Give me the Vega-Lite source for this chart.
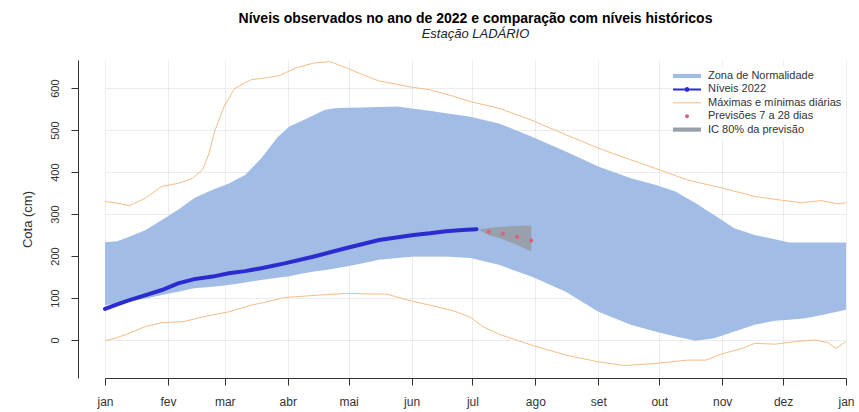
{
  "$schema": "https://vega.github.io/schema/vega-lite/v6.json",
  "width": 741,
  "height": 318,
  "autosize": {"type": "none"},
  "padding": {"left": 105, "top": 60, "right": 13, "bottom": 34},
  "background": "white",
  "title": {
    "text": "Níveis observados no ano de 2022 e comparação com níveis históricos",
    "subtitle": "Estação LADÁRIO",
    "anchor": "middle",
    "frame": "group",
    "fontSize": 14,
    "fontWeight": "bold",
    "color": "#000000",
    "subtitleFontSize": 13,
    "subtitleFontStyle": "italic",
    "subtitleColor": "#222222",
    "subtitlePadding": 2,
    "offset": 19
  },
  "config": {
    "font": "Liberation Sans",
    "view": {"stroke": null},
    "axis": {
      "grid": true,
      "gridColor": "#cfcfcf",
      "gridOpacity": 0.4,
      "domainColor": "#333333",
      "tickColor": "#333333",
      "tickSize": 7,
      "labelFontSize": 12,
      "labelColor": "#333333",
      "labelFlush": false,
      "labelOverlap": false,
      "zindex": 1
    }
  },
  "datasets": {
    "faixa": [
      {"dia": 0, "lo": 83, "hi": 233}, {"dia": 6, "lo": 87, "hi": 235}, {"dia": 12, "lo": 91, "hi": 246},
      {"dia": 20, "lo": 99, "hi": 262}, {"dia": 28, "lo": 107, "hi": 286}, {"dia": 36, "lo": 115, "hi": 310},
      {"dia": 44, "lo": 123, "hi": 338}, {"dia": 53, "lo": 127, "hi": 358}, {"dia": 61, "lo": 131, "hi": 373},
      {"dia": 69, "lo": 137, "hi": 393}, {"dia": 77, "lo": 143, "hi": 433}, {"dia": 85, "lo": 148, "hi": 483},
      {"dia": 91, "lo": 152, "hi": 509}, {"dia": 96, "lo": 157, "hi": 520}, {"dia": 103, "lo": 163, "hi": 536},
      {"dia": 108, "lo": 166, "hi": 548}, {"dia": 113, "lo": 170, "hi": 552}, {"dia": 119, "lo": 175, "hi": 553},
      {"dia": 127, "lo": 183, "hi": 554}, {"dia": 135, "lo": 191, "hi": 555}, {"dia": 144, "lo": 195, "hi": 556},
      {"dia": 152, "lo": 199, "hi": 551}, {"dia": 160, "lo": 199, "hi": 546}, {"dia": 168, "lo": 199, "hi": 540},
      {"dia": 180, "lo": 195, "hi": 532}, {"dia": 194, "lo": 179, "hi": 516}, {"dia": 210, "lo": 151, "hi": 485},
      {"dia": 227, "lo": 115, "hi": 449}, {"dia": 243, "lo": 67, "hi": 413}, {"dia": 259, "lo": 36, "hi": 385},
      {"dia": 271, "lo": 20, "hi": 370}, {"dia": 281, "lo": 8, "hi": 354}, {"dia": 291, "lo": -2, "hi": 326},
      {"dia": 300, "lo": 4, "hi": 298}, {"dia": 310, "lo": 20, "hi": 266}, {"dia": 320, "lo": 36, "hi": 250},
      {"dia": 330, "lo": 46, "hi": 240}, {"dia": 337, "lo": 48, "hi": 232}, {"dia": 345, "lo": 52, "hi": 232},
      {"dia": 355, "lo": 61, "hi": 232}, {"dia": 365, "lo": 72, "hi": 232}
    ],
    "extremos": [
      {"dia": 0, "v": 330, "s": "max"}, {"dia": 6, "v": 326, "s": "max"}, {"dia": 12, "v": 320, "s": "max"},
      {"dia": 20, "v": 338, "s": "max"}, {"dia": 28, "v": 366, "s": "max"}, {"dia": 36, "v": 373, "s": "max"},
      {"dia": 43, "v": 385, "s": "max"}, {"dia": 48, "v": 405, "s": "max"}, {"dia": 51, "v": 441, "s": "max"},
      {"dia": 54, "v": 497, "s": "max"}, {"dia": 59, "v": 560, "s": "max"}, {"dia": 64, "v": 600, "s": "max"},
      {"dia": 72, "v": 620, "s": "max"}, {"dia": 80, "v": 625, "s": "max"}, {"dia": 86, "v": 630, "s": "max"},
      {"dia": 94, "v": 648, "s": "max"}, {"dia": 103, "v": 660, "s": "max"}, {"dia": 111, "v": 663, "s": "max"},
      {"dia": 119, "v": 648, "s": "max"}, {"dia": 127, "v": 632, "s": "max"}, {"dia": 135, "v": 617, "s": "max"},
      {"dia": 149, "v": 604, "s": "max"}, {"dia": 160, "v": 596, "s": "max"}, {"dia": 172, "v": 580, "s": "max"},
      {"dia": 180, "v": 568, "s": "max"}, {"dia": 194, "v": 552, "s": "max"}, {"dia": 210, "v": 524, "s": "max"},
      {"dia": 227, "v": 489, "s": "max"}, {"dia": 243, "v": 457, "s": "max"}, {"dia": 259, "v": 429, "s": "max"},
      {"dia": 271, "v": 409, "s": "max"}, {"dia": 287, "v": 381, "s": "max"}, {"dia": 304, "v": 362, "s": "max"},
      {"dia": 320, "v": 342, "s": "max"}, {"dia": 330, "v": 335, "s": "max"}, {"dia": 343, "v": 327, "s": "max"},
      {"dia": 353, "v": 332, "s": "max"}, {"dia": 361, "v": 324, "s": "max"}, {"dia": 365, "v": 327, "s": "max"},
      {"dia": 0, "v": -2, "s": "min"}, {"dia": 5, "v": 4, "s": "min"}, {"dia": 12, "v": 16, "s": "min"},
      {"dia": 20, "v": 32, "s": "min"}, {"dia": 28, "v": 41, "s": "min"}, {"dia": 39, "v": 44, "s": "min"},
      {"dia": 49, "v": 56, "s": "min"}, {"dia": 61, "v": 67, "s": "min"}, {"dia": 72, "v": 83, "s": "min"},
      {"dia": 80, "v": 91, "s": "min"}, {"dia": 88, "v": 101, "s": "min"}, {"dia": 103, "v": 106, "s": "min"},
      {"dia": 119, "v": 111, "s": "min"}, {"dia": 139, "v": 109, "s": "min"}, {"dia": 149, "v": 95, "s": "min"},
      {"dia": 160, "v": 83, "s": "min"}, {"dia": 172, "v": 69, "s": "min"}, {"dia": 180, "v": 54, "s": "min"},
      {"dia": 186, "v": 32, "s": "min"}, {"dia": 194, "v": 14, "s": "min"}, {"dia": 210, "v": -12, "s": "min"},
      {"dia": 227, "v": -36, "s": "min"}, {"dia": 243, "v": -52, "s": "min"}, {"dia": 256, "v": -61, "s": "min"},
      {"dia": 271, "v": -56, "s": "min"}, {"dia": 287, "v": -48, "s": "min"}, {"dia": 296, "v": -48, "s": "min"},
      {"dia": 304, "v": -33, "s": "min"}, {"dia": 314, "v": -20, "s": "min"}, {"dia": 320, "v": -8, "s": "min"},
      {"dia": 330, "v": -10, "s": "min"}, {"dia": 340, "v": -4, "s": "min"}, {"dia": 350, "v": 0, "s": "min"},
      {"dia": 356, "v": -6, "s": "min"}, {"dia": 360, "v": -20, "s": "min"}, {"dia": 365, "v": -4, "s": "min"}
    ],
    "niveis": [
      {"dia": 0, "v": 74}, {"dia": 6, "v": 85}, {"dia": 12, "v": 95}, {"dia": 20, "v": 107},
      {"dia": 28, "v": 119}, {"dia": 36, "v": 135}, {"dia": 44, "v": 145}, {"dia": 53, "v": 151},
      {"dia": 61, "v": 159}, {"dia": 69, "v": 164}, {"dia": 77, "v": 171}, {"dia": 89, "v": 183},
      {"dia": 103, "v": 199}, {"dia": 119, "v": 219}, {"dia": 135, "v": 238}, {"dia": 152, "v": 250},
      {"dia": 160, "v": 254}, {"dia": 168, "v": 259}, {"dia": 176, "v": 262}, {"dia": 183, "v": 264}
    ],
    "previsao": [
      {"dia": 189, "v": 258}, {"dia": 196, "v": 253}, {"dia": 203, "v": 246}, {"dia": 210, "v": 237}
    ],
    "ic": [
      {"dia": 184, "lo": 262, "hi": 263}, {"dia": 189, "lo": 250, "hi": 267}, {"dia": 196, "lo": 240, "hi": 270},
      {"dia": 203, "lo": 226, "hi": 272}, {"dia": 210, "lo": 211, "hi": 273}
    ]
  },
  "layer": [
    {
      "data": {"name": "faixa"},
      "mark": {"type": "area", "opacity": 1},
      "encoding": {
        "x": {
          "field": "dia",
          "type": "quantitative",
          "scale": {"domain": [0, 365], "nice": false, "zero": false},
          "axis": {
            "values": [0, 31, 59, 90, 120, 151, 181, 212, 243, 273, 304, 334, 365],
            "labelExpr": "['jan','fev','mar','abr','mai','jun','jul','ago','set','out','nov','dez','jan'][indexof([0,31,59,90,120,151,181,212,243,273,304,334,365], datum.value)]",
            "title": null,
            "labelPadding": 11
          }
        },
        "y": {
          "field": "lo",
          "type": "quantitative",
          "scale": {"domain": [-90.6, 667], "nice": false, "zero": false},
          "axis": {
            "values": [0, 100, 200, 300, 400, 500, 600],
            "title": "Cota (cm)",
            "offset": 27,
            "labelAngle": 270,
            "labelAlign": "center",
            "labelBaseline": "bottom",
            "labelFontSize": 11,
            "labelPadding": 11,
            "titleFontSize": 13,
            "titleFontWeight": "normal",
            "titleColor": "#333333",
            "titlePadding": 15
          }
        },
        "y2": {"field": "hi"},
        "color": {
          "datum": "Zona de Normalidade",
          "scale": {
            "domain": ["Zona de Normalidade", "Níveis 2022", "Máximas e mínimas diárias", "Previsões 7 a 28 dias", "IC 80% da previsão"],
            "range": ["#a2bde5", "#2b2bd0", "#f7bd86", "#e0607a", "#98a1ab"]
          },
          "legend": {
            "title": null,
            "orient": "none",
            "legendX": 572,
            "legendY": 6,
            "padding": 4,
            "symbolSize": 144,
            "labelOffset": 15,
            "rowPadding": 2.4,
            "labelFontSize": 11,
            "labelColor": "#333333",
            "fillColor": "white",
            "zindex": 2,
            "encoding": {
              "symbols": {
                "shape": {"value": {"expr": "datum.value === 'Zona de Normalidade' || datum.value === 'IC 80% da previsão' ? 'M-2.33,-0.35H2.33V0.35H-2.33Z' : datum.value === 'Níveis 2022' ? 'M-2.33,-0.17H2.33V0.17H-2.33Z M0.4,0A0.4,0.4 0 1,1 -0.4,0A0.4,0.4 0 1,1 0.4,0Z' : datum.value === 'Previsões 7 a 28 dias' ? 'M0.33,0A0.33,0.33 0 1,1 -0.33,0A0.33,0.33 0 1,1 0.33,0Z' : 'M-2.33,-0.09H2.33V0.09H-2.33Z'"}},
                "fill": {"value": {"expr": "scale('color', datum.value)"}},
                "stroke": {"value": "transparent"},
                "strokeWidth": {"value": 0},
                "opacity": {"value": 1}
              }
            }
          }
        }
      }
    },
    {
      "data": {"name": "extremos"},
      "mark": {"type": "line", "strokeWidth": 1},
      "encoding": {
        "x": {"field": "dia", "type": "quantitative"},
        "y": {"field": "v", "type": "quantitative"},
        "detail": {"field": "s"},
        "color": {"datum": "Máximas e mínimas diárias"}
      }
    },
    {
      "data": {"name": "ic"},
      "mark": {"type": "area", "opacity": 1},
      "encoding": {
        "x": {"field": "dia", "type": "quantitative"},
        "y": {"field": "lo", "type": "quantitative"},
        "y2": {"field": "hi"},
        "color": {"datum": "IC 80% da previsão"}
      }
    },
    {
      "data": {"name": "niveis"},
      "mark": {"type": "line", "strokeWidth": 4, "strokeCap": "round"},
      "encoding": {
        "x": {"field": "dia", "type": "quantitative"},
        "y": {"field": "v", "type": "quantitative"},
        "color": {"datum": "Níveis 2022"}
      }
    },
    {
      "data": {"name": "previsao"},
      "mark": {"type": "point", "filled": true, "size": 16, "opacity": 1},
      "encoding": {
        "x": {"field": "dia", "type": "quantitative"},
        "y": {"field": "v", "type": "quantitative"},
        "color": {"datum": "Previsões 7 a 28 dias"}
      }
    }
  ]
}
